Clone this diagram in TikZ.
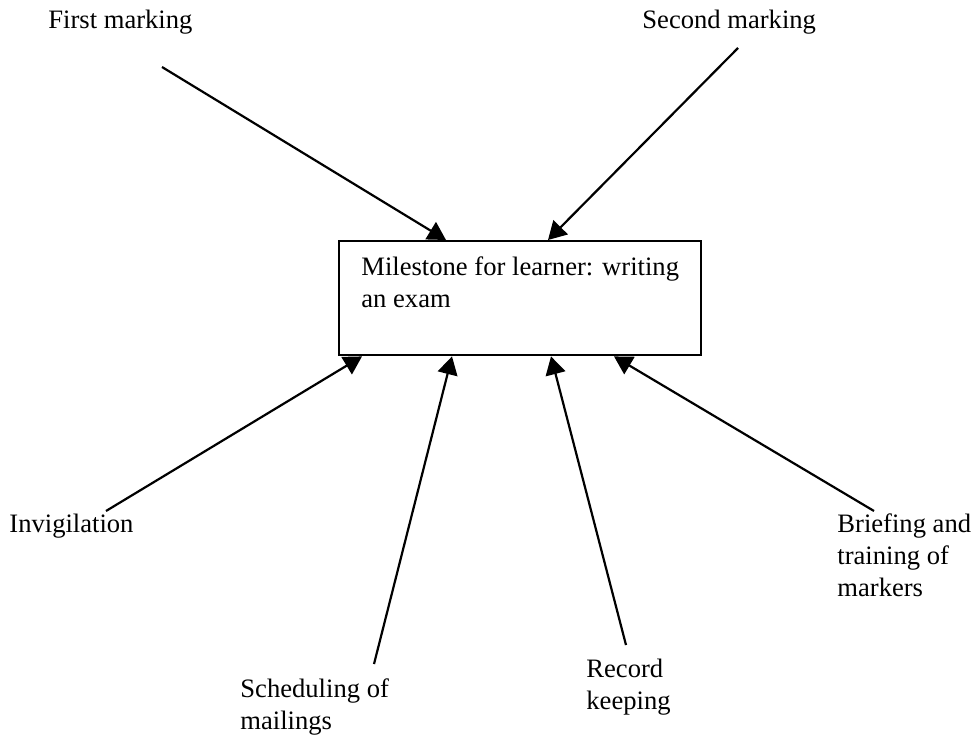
\documentclass[tikz,border=0pt]{standalone}
\usepackage{fontspec}
\setmainfont{Liberation Serif}
\usetikzlibrary{arrows.meta}

\begin{document}
\begin{tikzpicture}[x=0.5pt,y=-0.5pt,
  txt/.style={anchor=base west, inner sep=0pt, align=left, font=\fontsize{13.3}{16}\selectfont},
  link/.style={draw, line width=1.1pt, -{Triangle[length=9pt,width=10pt]}}]
\useasboundingbox (0,0) rectangle (973,738);

% the milestone in the middle
\node[draw, line width=1.2pt, anchor=north west, minimum width=181pt, minimum height=57pt,
  align=left, font=\fontsize{13.3}{16}\selectfont]
  (exam) at (338,240) {Milestone for learner: writing\\an exam\\\mbox{}};

% activities round it (base = last line)
\node[txt] (first) at (48,29) {First marking};
\node[txt] (second) at (642,29) {Second marking};
\node[txt] (invig) at (9,532) {Invigilation};
\node[txt] (sched) at (240,729) {Scheduling of\\mailings};
\node[txt] (record) at (586,709) {Record\\keeping};
\node[txt] (brief) at (837,596) {Briefing and\\training of\\markers};

\coordinate (c1) at (162,67);
\coordinate (c2) at (738,48);
\coordinate (c3) at (106,511);
\coordinate (c4) at (374,664);
\coordinate (c5) at (626,645);
\coordinate (c6) at (874,511);

\path[link] (c1) -- ([xshift=54pt]exam.north west);
\path[link] (c2) -- ([xshift=105pt]exam.north west);
\path[link] (c3) -- ([xshift=12pt]exam.south west);
\path[link] (c4) -- ([xshift=57pt]exam.south west);
\path[link] (c5) -- ([xshift=106.5pt]exam.south west);
\path[link] (c6) -- ([xshift=138pt]exam.south west);
\end{tikzpicture}
\end{document}
